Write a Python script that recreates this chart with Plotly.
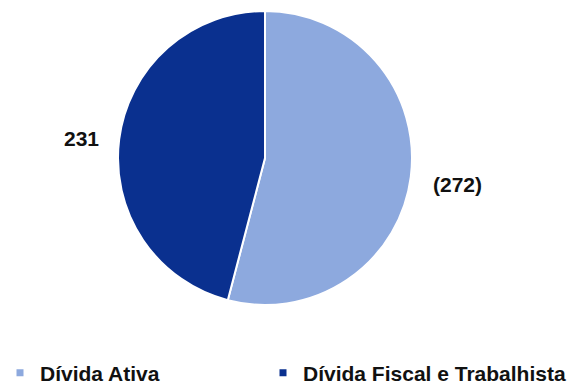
import plotly.graph_objects as go

labels = ["Dívida Ativa", "Dívida Fiscal e Trabalhista"]
values = [272, 231]
display_text = ["(272)", "231"]
colors = ["#8DA9DE", "#0A308F"]

W, H = 581, 384
FONT = dict(family="Liberation Sans", size=21, color="#111", weight="bold")

fig = go.Figure(go.Pie(
    labels=labels, values=values, sort=False, direction="clockwise", rotation=0,
    marker=dict(colors=colors, line=dict(color="white", width=2)),
    textinfo="none", hoverinfo="label+value", showlegend=False,
    domain=dict(x=[118/W, 412/W], y=[1-305/H, 1-11/H]),
))

# legend entries with small square markers, each in its own legend box
legend_names = ["legend", "legend2"]
for lab, col, lg in zip(labels, colors, legend_names):
    fig.add_trace(go.Scatter(x=[None], y=[None], mode="markers", name=lab,
                             marker=dict(symbol="square", size=7, color=col),
                             showlegend=True, hoverinfo="skip", legend=lg))

ann_pos = [(457/W, 1-184/H), (81/W, 1-138/H)]
for t, (ax, ay) in zip(display_text, ann_pos):
    fig.add_annotation(x=ax, y=ay, xref="paper", yref="paper", text=t, showarrow=False,
                       xanchor="center", yanchor="middle", font=FONT)

leg_common = dict(orientation="h", yref="container", y=1-373/H, xanchor="left",
                  yanchor="middle", itemwidth=30, font=FONT, bgcolor="rgba(0,0,0,0)")
fig.update_layout(
    width=W, height=H, margin=dict(l=0, r=0, t=0, b=0, autoexpand=False),
    paper_bgcolor="white", plot_bgcolor="white",
    xaxis=dict(visible=False), yaxis=dict(visible=False),
    legend=dict(x=0.0, **leg_common),
    legend2=dict(x=263/W, **leg_common),
)
fig.write_html("out.html")
